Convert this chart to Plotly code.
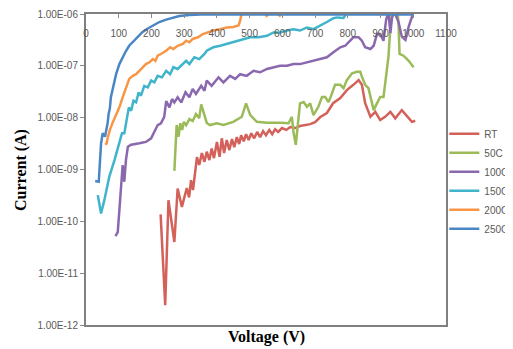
import plotly.graph_objects as go

# ---- data (Voltage in V, Current in A) ----
series_names = ["RT", "50C", "100C", "150C", "200C", "250C"]
series_colors = ["#D4605A", "#9BBB59", "#8A68AE", "#3FB4CB", "#F79646", "#4A86C5"]

rt_v = [228, 242, 252, 270, 280, 293, 308, 315, 321, 327, 339, 346, 354, 362, 369, 377, 384, 391,
        400, 408, 415, 422, 430, 438, 446, 453, 461, 468, 474, 482, 489, 497, 505, 514, 523, 532,
        541, 550, 560, 569, 578, 587, 599, 612, 624, 639, 654, 670, 685, 700, 716, 736, 746, 755,
        777, 797, 817, 833, 843, 853, 869, 884, 899, 914, 930, 945, 965, 981, 996, 1006]
rt_i = [1.36e-10, 2.4e-12, 2.56e-10, 4.0e-11, 4.3e-10, 1.9e-10, 4.4e-10, 2.9e-10, 6.2e-10, 4.0e-10,
        1.73e-9, 1.22e-9, 2.07e-9, 1.41e-9, 2.2e-9, 1.52e-9, 2.55e-9, 1.66e-9, 3.4e-9, 1.76e-9,
        4.0e-9, 2.07e-9, 3.7e-9, 2.37e-9, 3.86e-9, 2.7e-9, 4.2e-9, 3.1e-9, 4.6e-9, 3.5e-9,
        4.8e-9, 3.7e-9, 5.0e-9, 4.0e-9, 5.3e-9, 4.2e-9, 5.5e-9, 4.6e-9, 5.8e-9, 4.8e-9,
        6.0e-9, 5.3e-9, 6.3e-9, 5.8e-9, 6.6e-9, 6.3e-9, 6.9e-9, 7.2e-9, 7.5e-9, 8.2e-9,
        1.03e-8, 1.23e-8, 1.53e-8, 1.9e-8, 2.4e-8, 3.4e-8, 4.3e-8, 5.3e-8, 4.3e-8, 1.9e-8,
        1.04e-8, 1.3e-8, 9.0e-9, 1.04e-8, 1.3e-8, 9.7e-9, 1.4e-8, 1.04e-8, 8.3e-9, 8.7e-9]

c50_v = [270, 277, 283, 288, 294, 299, 306, 316, 326, 336, 346, 352, 369, 379, 400, 420, 450, 476,
         489, 502, 522, 553, 593, 619, 629, 634, 641, 647, 654, 665, 675, 685, 695, 710, 721, 731,
         741, 746, 761, 777, 787, 797, 813, 828, 838, 843, 853, 863, 874, 879, 889, 899, 909, 914,
         920, 924, 930, 936, 951, 955, 958, 970, 986, 1001]
c50_i = [9.4e-10, 7.2e-9, 4.3e-9, 7.8e-9, 5.8e-9, 8.3e-9, 7.2e-9, 9.4e-9, 8.6e-9, 1.17e-8,
         9.8e-9, 1.8e-8, 7.9e-9, 7.2e-9, 7.8e-9, 7.2e-9, 8.3e-9, 1.04e-8, 1.89e-8, 1.12e-8,
         8.3e-9, 8.0e-9, 8.0e-9, 7.8e-9, 1.04e-8, 5.3e-9, 3.0e-9, 6.2e-9, 1.89e-8, 2.0e-8,
         1.62e-8, 1.89e-8, 1.12e-8, 1.62e-8, 2.5e-8, 2.5e-8, 2.0e-8, 2.36e-8, 4.3e-8, 4.3e-8,
         3.7e-8, 5.3e-8, 7.2e-8, 7.7e-8, 7.7e-8, 6.2e-8, 4.3e-8, 3.7e-8, 1.89e-8, 1.4e-8,
         1.89e-8, 2.5e-8, 2.5e-8, 4.6e-8, 8.3e-8, 1.46e-7, 5.5e-7, 1.3e-6, 1.3e-6, 6.4e-7,
         1.7e-7, 1.57e-7, 1.25e-7, 9.4e-8]

c100_v = [90, 97, 102, 112, 117, 122, 128, 138, 163, 183, 199, 209, 219, 229, 239, 245, 255, 263,
          270, 280, 291, 304, 316, 326, 336, 352, 362, 369, 384, 405, 420, 440, 456, 471, 491, 512,
          532, 553, 573, 593, 614, 634, 654, 675, 695, 716, 736, 756, 777, 792, 807, 817, 833, 843,
          853, 869, 879, 889, 899, 909, 917, 924, 930, 935, 942, 955, 965, 976, 986, 996, 1001]
c100_i = [5.2e-11, 6.2e-11, 1.64e-10, 1.22e-9, 5.8e-10, 1.52e-9, 2.74e-9, 3.0e-9, 3.2e-9, 3.4e-9,
          4.0e-9, 5.3e-9, 7.2e-9, 7.8e-9, 1.04e-8, 2.09e-8, 1.58e-8, 2.29e-8, 1.97e-8, 2.47e-8,
          1.97e-8, 3.1e-8, 2.47e-8, 3.6e-8, 2.86e-8, 4.1e-8, 3.3e-8, 5.2e-8, 4.1e-8, 6.0e-8,
          4.8e-8, 6.4e-8, 5.6e-8, 6.9e-8, 6.4e-8, 8.0e-8, 7.5e-8, 8.7e-8, 9.4e-8, 1.0e-7,
          1.0e-7, 1.08e-7, 1.08e-7, 1.17e-7, 1.25e-7, 1.35e-7, 1.46e-7, 1.82e-7, 2.28e-7, 2.44e-7,
          3.05e-7, 3.55e-7, 3.55e-7, 3.05e-7, 2.28e-7, 2.11e-7, 2.44e-7, 4.1e-7, 4.1e-7, 3.05e-7,
          7.7e-7, 1.1e-6, 4.3e-7, 8.4e-7, 1.1e-6, 7.0e-7, 3.65e-7, 3.15e-7, 5.7e-7, 8.9e-7, 1.1e-6]

c150_v = [36, 46, 56, 71, 87, 102, 110, 117, 122, 128, 131, 138, 145, 153, 161, 168, 178, 189, 199,
          209, 219, 232, 245, 257, 267, 280, 296, 306, 316, 331, 346, 362, 369, 389, 410, 430, 450,
          481, 502, 527, 553, 573, 593, 614, 634, 654, 675, 695, 716, 736, 756, 767, 787, 798, 850, 1000]
c150_i = [3.2e-10, 1.42e-10, 2.56e-10, 7.2e-10, 1.52e-9, 3.2e-9, 5.0e-9, 5.0e-9, 7.8e-9, 1.21e-8,
          1.58e-8, 1.36e-8, 2.12e-8, 1.97e-8, 3.08e-8, 2.65e-8, 4.1e-8, 3.85e-8, 5.2e-8, 4.8e-8,
          6.4e-8, 6.0e-8, 8.0e-8, 6.9e-8, 9.4e-8, 8.7e-8, 1.08e-7, 1.25e-7, 1.08e-7, 1.46e-7,
          1.35e-7, 1.69e-7, 1.96e-7, 2.28e-7, 2.44e-7, 2.64e-7, 2.84e-7, 3.3e-7, 3.55e-7, 3.55e-7,
          3.8e-7, 4.4e-7, 4.4e-7, 4.8e-7, 5.1e-7, 4.8e-7, 5.5e-7, 5.1e-7, 5.9e-7, 7.0e-7,
          8.3e-7, 8.6e-7, 8.4e-7, 1.1e-6, 1.3e-6, 1.5e-6]

c200_v = [59, 63, 66, 73, 82, 92, 102, 112, 122, 132, 143, 153, 163, 173, 183, 194, 204, 212, 219,
          229, 245, 257, 267, 280, 296, 306, 316, 326, 342, 357, 369, 389, 410, 430, 450, 466, 471,
          476, 520, 545, 552, 560, 580, 592, 600, 650, 1000]
c200_i = [3.0e-9, 3.2e-9, 4.0e-9, 5.8e-9, 8.2e-9, 1.17e-8, 1.58e-8, 2.47e-8, 3.85e-8, 5.6e-8,
          6.4e-8, 6.9e-8, 8.0e-8, 9.4e-8, 1.08e-7, 1.17e-7, 1.35e-7, 1.25e-7, 1.57e-7, 1.69e-7,
          1.96e-7, 2.28e-7, 2.11e-7, 2.44e-7, 2.64e-7, 3.05e-7, 2.84e-7, 3.3e-7, 3.55e-7, 4.1e-7,
          4.4e-7, 4.8e-7, 5.1e-7, 5.5e-7, 5.6e-7, 6.0e-7, 7.4e-7, 1.05e-6, 1.2e-6, 1.05e-6,
          9.2e-7, 1.05e-6, 1.1e-6, 9.3e-7, 1.1e-6, 1.3e-6, 1.5e-6]

c250_v = [28, 39, 46, 51, 58, 66, 69, 73, 76, 83, 92, 102, 112, 122, 132, 143, 158, 173, 189, 204,
          224, 245, 265, 285, 316, 349, 450, 600, 800, 1000]
c250_i = [6.0e-10, 5.8e-10, 3.2e-9, 5.0e-9, 4.3e-9, 7.8e-9, 1.17e-8, 1.53e-8, 2.47e-8, 4.1e-8,
          6.9e-8, 1.08e-7, 1.46e-7, 1.93e-7, 2.44e-7, 2.88e-7, 3.76e-7, 4.5e-7, 5.25e-7, 6.0e-7,
          7.0e-7, 7.8e-7, 8.6e-7, 9.15e-7, 9.6e-7, 9.75e-7, 9.75e-7, 9.75e-7, 9.75e-7, 9.75e-7]

y_tick_vals = [1e-12, 1e-11, 1e-10, 1e-9, 1e-8, 1e-7, 1e-6]
y_tick_text = ["1.00E-12", "1.00E-11", "1.00E-10", "1.00E-09", "1.00E-08", "1.00E-07", "1.00E-06"]
x_tick_vals = list(range(0, 1101, 100))

all_v = [rt_v, c50_v, c100_v, c150_v, c200_v, c250_v]
all_i = [rt_i, c50_i, c100_i, c150_i, c200_i, c250_i]

fig = go.Figure()
for name, color, v, i in zip(series_names, series_colors, all_v, all_i):
    fig.add_trace(go.Scatter(x=v, y=i, mode="lines", name=name,
                             line=dict(color=color, width=2.5)))

# invisible helper trace so the inner tick-label axis (x2) is drawn
fig.add_trace(go.Scatter(x=c250_v, y=c250_i, xaxis="x2", mode="lines",
                         line=dict(color="rgba(0,0,0,0)", width=0),
                         showlegend=False, hoverinfo="skip"))

tick_font = dict(family="Liberation Sans, Arial", size=10, color="#595959")
title_font = dict(family="Liberation Serif, Times New Roman", size=16, color="#000000")

# page body has an 8px default margin -> figure is 505x341 so it fits the 513x349 window
fig.update_layout(
    width=505, height=341,
    margin=dict(l=78, r=67, t=6, b=24, autoexpand=False),
    paper_bgcolor="white", plot_bgcolor="white",
    showlegend=True,
    legend=dict(xref="container", yref="container", x=0.864, y=0.674,
                xanchor="left", yanchor="top",
                font=dict(family="Liberation Sans, Arial", size=10, color="#595959"),
                itemwidth=30, bgcolor="rgba(0,0,0,0)", tracegroupgap=0),
    xaxis=dict(type="linear", range=[0, 1100], side="top", tickvals=x_tick_vals,
               ticks="inside", ticklen=4, tickcolor="#888888", showticklabels=False,
               showgrid=False, zeroline=False, automargin=False,
               showline=True, linecolor="#808080", linewidth=2, mirror=True),
    xaxis2=dict(type="linear", range=[0, 1100], overlaying="x", anchor="free", position=0.962,
                side="bottom", tickvals=x_tick_vals, ticks="", showline=False,
                tickfont=tick_font, showgrid=False, zeroline=False, automargin=False),
    yaxis=dict(type="log", range=[-12, -6], tickvals=y_tick_vals, ticktext=y_tick_text,
               ticks="outside", ticklen=4, tickcolor="#888888", tickfont=tick_font,
               showgrid=False, zeroline=False, automargin=False,
               showline=True, linecolor="#808080", linewidth=2, mirror=True),
    annotations=[
        dict(text="<b>Voltage (V)</b>", xref="paper", yref="paper", x=0.5, y=-0.039,
             xanchor="center", yanchor="middle", showarrow=False, font=title_font),
        dict(text="<b>Current (A)</b>", xref="paper", yref="paper", x=-0.182, y=0.5,
             xanchor="center", yanchor="middle", textangle=-90, showarrow=False, font=title_font),
    ],
)

fig.write_html("out.html")
